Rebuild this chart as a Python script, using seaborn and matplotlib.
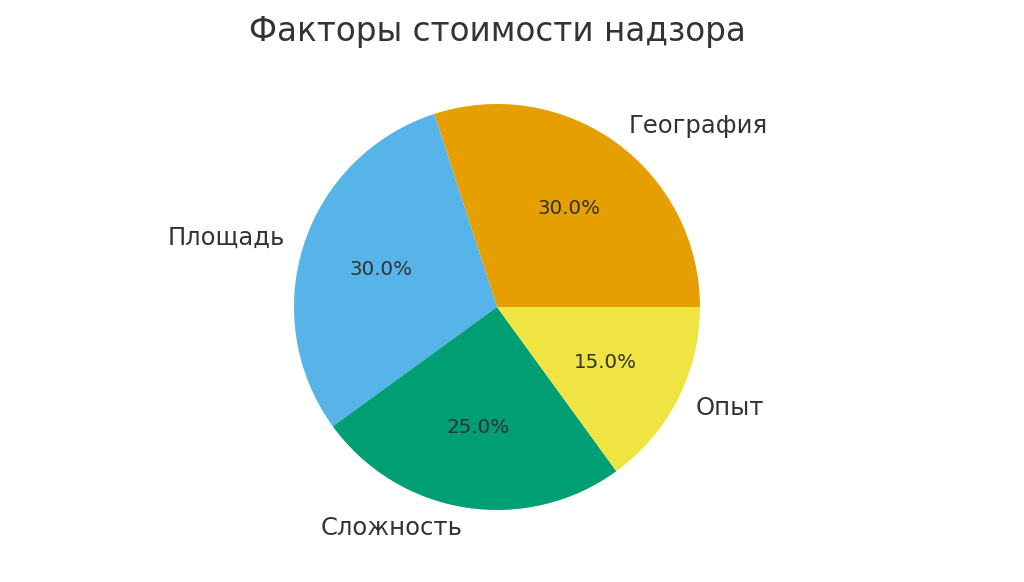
import matplotlib
matplotlib.use("Agg")
import matplotlib.pyplot as plt
import seaborn as sns

labels = ["География", "Площадь", "Сложность", "Опыт"]
values = [30, 30, 25, 15]

sns.set_theme(style="white")
plt.rcParams['font.family'] = ['DejaVu Sans']
cols = ["#E69F00", "#56B4E9", "#009E73", "#F0E442"]

fig = plt.figure(figsize=(10.24, 5.82), dpi=100)
ax = fig.add_axes([(497-203)/1024, (582-307-203)/582, 406/1024, 406/582])
wedges, texts, autotexts = ax.pie(values, labels=labels, colors=cols, autopct="%1.1f%%",
                                  startangle=0, labeldistance=1.1, pctdistance=0.6,
                                  wedgeprops={"linewidth": 0},
                                  textprops={"color": "#333333"})
for t in texts:
    t.set_fontsize(17.5)
for t in autotexts:
    t.set_fontsize(14.3)
ax.set_xlim(-1, 1)
ax.set_ylim(-1, 1)
ax.set_aspect("equal")
fig.text(497/1024, 1-32/582, "Факторы стоимости надзора", ha="center", va="center",
         fontsize=23.5, color="#333333")
fig.savefig("out.png", dpi=100)
